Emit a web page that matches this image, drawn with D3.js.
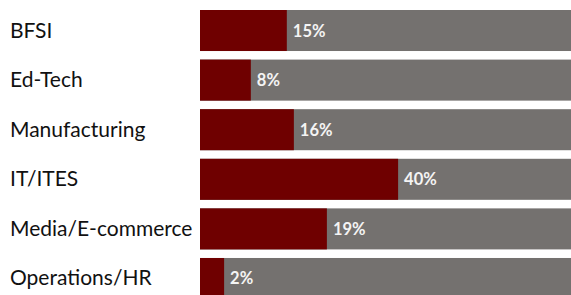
<!DOCTYPE html>
<html>
<head>
<meta charset="utf-8">
<script src="https://cdn.jsdelivr.net/npm/d3@7"></script>
<style>
  html, body { margin: 0; padding: 0; background: #ffffff; }
  svg { display: block; font-family: Lato, "Open Sans", sans-serif; }
</style>
</head>
<body>
<div id="chart"></div>
<script>
// categories and the shown shares
let categories = ["BFSI", "Ed-Tech", "Manufacturing", "IT/ITES", "Media/E-commerce", "Operations/HR"];
let shareLabels = ["15%", "8%", "16%", "40%", "19%", "2%"];
// filled length of each bar (percent of the grey track)
let barValues = [23.4, 13.7, 25.3, 53.4, 34.2, 6.5];

let width = 571, height = 295;
let margin = { top: 10, left: 200, right: 0 };

let svg = d3.select("#chart")
  .append("svg")
  .attr("width", width)
  .attr("height", height);

let x = d3.scaleLinear()
  .domain([0, 100])
  .range([margin.left, width - margin.right]);

let y = d3.scaleBand()
  .domain(categories)
  .range([margin.top, 299])
  .paddingInner(0.173)
  .paddingOuter(0);

let rows = categories.map((c, i) => ({ name: c, value: barValues[i], label: shareLabels[i] }));

// grey track
svg.append("g")
  .selectAll("rect")
  .data(rows)
  .enter()
  .append("rect")
  .attr("x", x(0))
  .attr("y", (d) => y(d.name))
  .attr("width", x(100) - x(0))
  .attr("height", y.bandwidth())
  .style("fill", "#74716f");

// red fill
svg.append("g")
  .selectAll("rect")
  .data(rows)
  .enter()
  .append("rect")
  .attr("x", x(0))
  .attr("y", (d) => y(d.name))
  .attr("width", (d) => x(d.value) - x(0))
  .attr("height", y.bandwidth())
  .style("fill", "#6f0000");

// value labels
svg.append("g")
  .selectAll("text")
  .data(rows)
  .enter()
  .append("text")
  .attr("x", (d) => x(d.value) + 6)
  .attr("y", (d) => y(d.name) + y.bandwidth() / 2 + 6)
  .style("font-size", "16.5px")
  .style("font-weight", "bold")
  .style("fill", "#f4f4f4")
  .text((d) => d.label);

// category names
svg.append("g")
  .selectAll("text")
  .data(rows)
  .enter()
  .append("text")
  .attr("x", 10)
  .attr("y", (d) => y(d.name) + y.bandwidth() / 2 + 7)
  .style("font-size", "21px")
  .style("fill", "#111111")
  .text((d) => d.name);
</script>
</body>
</html>
